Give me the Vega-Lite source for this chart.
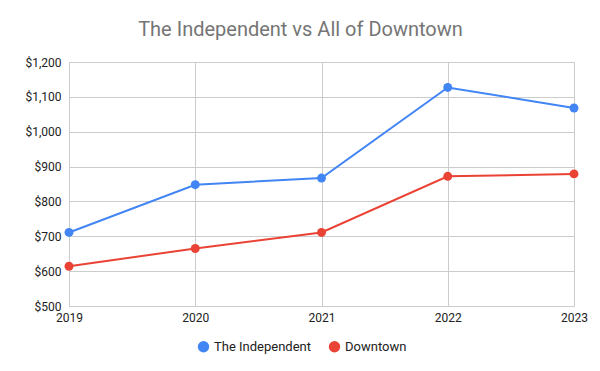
{
  "$schema": "https://vega.github.io/schema/vega-lite/v6.json",
  "autosize": "none",
  "width": 505,
  "height": 244,
  "padding": {"left": 69, "top": 62, "right": 26, "bottom": 65},
  "background": "white",
  "title": {
    "text": "The Independent vs All of Downtown",
    "font": "Roboto",
    "fontSize": 20,
    "fontWeight": "normal",
    "color": "#757575",
    "anchor": "middle",
    "frame": "group",
    "dx": -21,
    "offset": 16
  },
  "data": {
    "values": [
      {"year": "2019", "series": "The Independent", "rent": 711},
      {"year": "2020", "series": "The Independent", "rent": 848},
      {"year": "2021", "series": "The Independent", "rent": 867},
      {"year": "2022", "series": "The Independent", "rent": 1127},
      {"year": "2023", "series": "The Independent", "rent": 1068},
      {"year": "2019", "series": "Downtown", "rent": 614},
      {"year": "2020", "series": "Downtown", "rent": 665},
      {"year": "2021", "series": "Downtown", "rent": 711},
      {"year": "2022", "series": "Downtown", "rent": 872},
      {"year": "2023", "series": "Downtown", "rent": 879}
    ]
  },
  "encoding": {
    "x": {
      "field": "year",
      "type": "ordinal",
      "scale": {"type": "point", "padding": 0},
      "axis": {
        "title": null,
        "labelAngle": 0,
        "grid": true,
        "gridColor": "#cccccc",
        "domain": false,
        "ticks": false,
        "labelFont": "Roboto",
        "labelFontSize": 12,
        "labelColor": "#222222",
        "labelPadding": 6
      }
    },
    "y": {
      "field": "rent",
      "type": "quantitative",
      "scale": {"domain": [500, 1200], "nice": false},
      "axis": {
        "title": null,
        "format": "$,d",
        "values": [500, 600, 700, 800, 900, 1000, 1100, 1200],
        "grid": true,
        "gridColor": "#cccccc",
        "domain": false,
        "ticks": false,
        "labelFont": "Roboto",
        "labelFontSize": 12,
        "labelColor": "#222222",
        "labelPadding": 8
      }
    },
    "color": {
      "field": "series",
      "type": "nominal",
      "scale": {"domain": ["The Independent", "Downtown"], "range": ["#4285F4", "#EA4335"]},
      "legend": {
        "title": null,
        "orient": "none",
        "direction": "horizontal",
        "legendX": 128,
        "legendY": 278,
        "symbolType": "circle",
        "symbolSize": 130,
        "symbolStrokeWidth": 0,
        "labelFont": "Roboto",
        "labelFontSize": 13,
        "labelColor": "#222222",
        "columnPadding": 16,
        "symbolOffset": 0
      }
    }
  },
  "layer": [
    {"mark": {"type": "line", "strokeWidth": 2}},
    {"mark": {"type": "point", "filled": true, "size": 80, "opacity": 1}}
  ]
}
